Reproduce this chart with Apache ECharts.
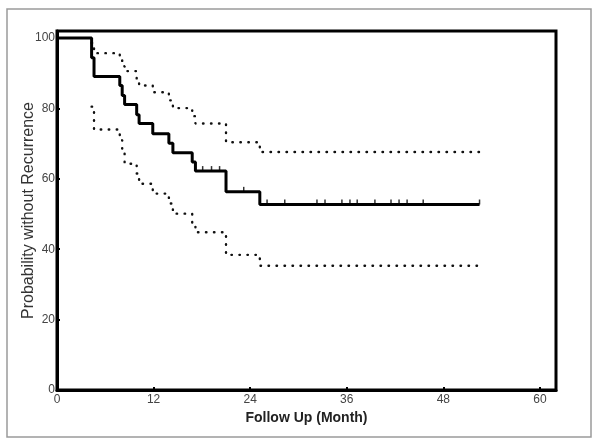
<!DOCTYPE html>
<html>
<head>
<meta charset="utf-8">
<script src="https://cdn.jsdelivr.net/npm/echarts@6/dist/echarts.min.js"></script>
<style>html,body{margin:0;padding:0;background:#fff;}#c{width:600px;height:447px;}</style>
</head>
<body>
<div id="c"></div>
<script>
// Event times (months) and Kaplan-Meier estimates
var times    = [0, 4.3, 4.6, 7.8, 8.1, 8.4, 9.9, 10.2, 11.9, 13.9, 14.4, 16.8, 17.2, 21.0, 25.2, 52.5];
var survival = [100, 94.4, 89.1, 86.5, 83.7, 81.1, 78.2, 75.7, 72.8, 70.1, 67.4, 64.8, 62.2, 56.3, 52.7, 52.7];
// Confidence limits (start at first event)
var ciTimes  = [4.3, 4.6, 7.8, 8.1, 8.4, 9.9, 10.2, 11.9, 13.9, 14.4, 16.8, 17.2, 21.0, 25.2, 52.5];
var upperCI  = [98.6, 95.7, 93.8, 92.0, 90.6, 88.5, 86.5, 84.6, 82.3, 80.1, 77.8, 75.7, 70.4, 67.6, 67.6];
var lowerCI  = [80.5, 74.0, 71.0, 68.5, 64.3, 61.5, 58.6, 55.8, 53.0, 50.1, 47.3, 44.8, 38.4, 35.3, 35.3];
// Censored observations
var censorTimes  = [18.1, 19.2, 20.2, 23.2, 26.1, 28.3, 32.3, 33.3, 35.4, 36.4, 37.3, 39.5, 41.5, 42.5, 43.5, 45.5, 52.5];
var censorValues = [62.2, 62.2, 62.2, 56.3, 52.7, 52.7, 52.7, 52.7, 52.7, 52.7, 52.7, 52.7, 52.7, 52.7, 52.7, 52.7, 52.7];
var xTicks = [0, 12, 24, 36, 48, 60];
var yTicks = [0, 20, 40, 60, 80, 100];

function zip(a, b) { return a.map(function (v, i) { return [v, b[i]]; }); }

var chart = echarts.init(document.getElementById('c'), null, {renderer: 'canvas'});
var font = 'Liberation Sans, Arial, sans-serif';
chart.setOption({
  animation: false,
  backgroundColor: '#fff',
  graphic: [{
    type: 'rect', shape: {x: 7, y: 9, width: 584, height: 428},
    style: {fill: 'none', stroke: '#9a9a9a', lineWidth: 1.5}, z: -1
  }],
  grid: {left: 57, right: 44, top: 31, bottom: 57, show: true, borderColor: '#000', borderWidth: 3, backgroundColor: 'transparent'},
  xAxis: {
    type: 'value', min: 0, max: 62, interval: 12,
    name: 'Follow Up (Month)', nameLocation: 'middle', nameGap: 21,
    nameTextStyle: {fontFamily: font, fontSize: 14, fontWeight: 'bold', color: '#222'},
    axisLine: {show: true, lineStyle: {color: '#000', width: 3}},
    axisTick: {show: true, inside: true, length: 3, lineStyle: {color: '#000', width: 2},
      customValues: xTicks},
    axisLabel: {fontFamily: font, fontSize: 12, color: '#444', margin: 4,
      customValues: xTicks,
      formatter: function (v) { return xTicks.indexOf(v) >= 0 ? String(v) : ''; }},
    splitLine: {show: false}
  },
  yAxis: {
    type: 'value', min: 0, max: 102, interval: 20,
    name: 'Probability without Recurrence', nameLocation: 'middle', nameGap: 20,
    nameMoveOverlap: false,
    nameTextStyle: {fontFamily: font, fontSize: 16, color: '#333'},
    axisLine: {show: true, lineStyle: {color: '#000', width: 3}},
    axisTick: {show: true, inside: true, length: 3, lineStyle: {color: '#000', width: 2},
      customValues: yTicks},
    axisLabel: {fontFamily: font, fontSize: 12, color: '#444', margin: 2,
      customValues: yTicks,
      formatter: function (v) { return yTicks.indexOf(v) >= 0 ? String(v) : ''; }},
    splitLine: {show: false}
  },
  series: [
    {type: 'line', step: 'end', data: zip(ciTimes, upperCI), symbol: 'none',
      lineStyle: {color: '#111', width: 2.4, type: [0.5, 7.5], cap: 'round'}, z: 2},
    {type: 'line', step: 'end', data: zip(ciTimes, lowerCI), symbol: 'none',
      lineStyle: {color: '#111', width: 2.4, type: [0.5, 7.5], cap: 'round'}, z: 2},
    {type: 'line', step: 'end', data: zip(times, survival), symbol: 'none',
      lineStyle: {color: '#000', width: 3}, z: 3},
    {type: 'scatter', data: zip(censorTimes, censorValues), symbol: 'rect',
      symbolSize: [1.5, 5], symbolOffset: [0, -2.5], itemStyle: {color: '#000'}, z: 4}
  ]
});
</script>
</body>
</html>
